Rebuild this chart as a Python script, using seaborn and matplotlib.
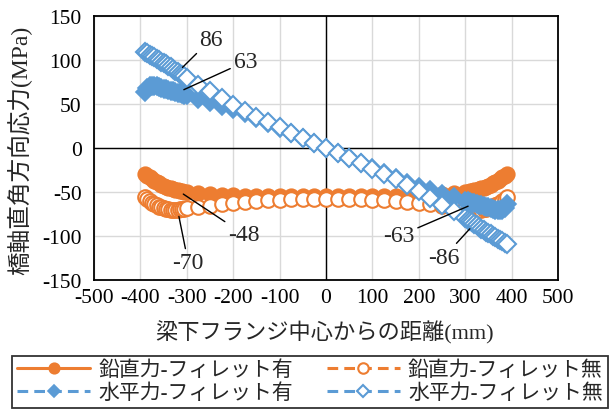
import matplotlib
matplotlib.use("Agg")
import matplotlib.pyplot as plt
import seaborn as sns

# Distance from the centre of the lower beam flange (mm)
x_mm = [-390, -385, -380, -375, -370, -365, -360, -355, -350, -345,
        -340, -335, -330, -325, -320, -315, -310, -305, -300,
        -275, -250, -225, -200, -175, -150, -125, -100, -75, -50, -25,
        0,
        25, 50, 75, 100, 125, 150, 175, 200, 225, 250, 275,
        300, 305, 310, 315, 320, 325, 330, 335, 340, 345,
        350, 355, 360, 365, 370, 375, 380, 385, 390]

# Transverse stress (MPa), vertical load, with fillet
v_fillet = [-30, -31.5, -33, -35, -37, -38.5, -40, -41.5, -43, -44,
            -45, -46, -47, -47.5, -48, -48.5, -49, -49.5, -50,
            -51.5, -52.5, -53, -53.5, -54, -54.5, -54.5, -55, -55, -55, -55,
            -55,
            -55, -55, -55, -55, -54.5, -54.5, -54, -53.5, -53, -52.5, -51.5,
            -50, -49.5, -49, -48.5, -48, -47.5, -47, -46, -45, -44,
            -43, -41.5, -40, -38.5, -37, -35, -33, -31.5, -30]

# Vertical load, without fillet
v_nofillet = [-56, -58, -60, -62, -63.5, -65, -66.5, -67.5, -68.5, -69,
              -69.5, -70, -70, -70, -70, -69.5, -69.5, -69, -68.5,
              -67, -65.5, -64, -62.5, -61.5, -60.5, -59.5, -59, -58.5, -58, -58,
              -58,
              -58, -58, -58.5, -59, -59.5, -60.5, -61.5, -62.5, -64, -65.5, -67,
              -68.5, -69, -69.5, -69.5, -70, -70, -70, -70, -69.5, -69,
              -68.5, -67.5, -66.5, -65, -63.5, -62, -60, -58, -56]

# Horizontal load, with fillet
h_fillet = [64, 68, 70.5, 71, 70.5, 70, 69.5, 68.5, 67.5, 66.5,
            66, 65, 64.5, 63.5, 63, 62, 61.5, 60.5, 60,
            56, 52, 48, 44, 39.5, 34, 28.5, 22.5, 17, 11, 5.5,
            0,
            -5.5, -11, -17, -22.5, -28.5, -34, -39.5, -44, -48, -52, -56,
            -60, -60.5, -61.5, -62, -63, -63.5, -64.5, -65, -66, -66.5,
            -67.5, -68.5, -69.5, -70, -70.5, -71, -70.5, -68, -64]

# Horizontal load, without fillet
h_nofillet = [109, 107.5, 106, 104.5, 103, 101.5, 100, 98, 96.5, 95,
              93, 91.5, 89.5, 88, 86, 84.5, 83, 81.5, 80,
              72, 64.5, 56.5, 49, 42, 35.5, 29.5, 23.5, 17.5, 11.5, 6,
              0,
              -6, -11.5, -17.5, -23.5, -29.5, -35.5, -42, -49, -56.5, -64.5, -72,
              -80, -81.5, -83, -84.5, -86, -88, -89.5, -91.5, -93, -95,
              -96.5, -98, -100, -101.5, -103, -104.5, -106, -107.5, -109]

series_names = ["鉛直力-フィレット有", "鉛直力-フィレット無",
                "水平力-フィレット有", "水平力-フィレット無"]
x_ticks = [-500, -400, -300, -200, -100, 0, 100, 200, 300, 400, 500]
y_ticks = [-150, -100, -50, 0, 50, 100, 150]

ORANGE = "#ED7D31"
BLUE = "#5B9BD5"

sns.set_style("white")
plt.rcParams["font.family"] = ["Liberation Serif", "Noto Sans CJK JP"]
plt.rcParams["axes.unicode_minus"] = False

fig = plt.figure(figsize=(6.14, 4.10), dpi=100)
ax = fig.add_axes([94 / 614, 1 - 281 / 410, (558 - 94) / 614, (281 - 17) / 410])

dash = (3.5, 2.0)
sns.lineplot(x=x_mm, y=v_fillet, ax=ax, sort=False, color=ORANGE, lw=2.2,
             marker="o", markersize=10.5, markerfacecolor=ORANGE,
             markeredgecolor=ORANGE, markeredgewidth=1.2, label=series_names[0])
sns.lineplot(x=x_mm, y=v_nofillet, ax=ax, sort=False, color=ORANGE, lw=2.2,
             dashes=dash, marker="o", markersize=10.5, markerfacecolor="white",
             markeredgecolor=ORANGE, markeredgewidth=1.5, label=series_names[1])
sns.lineplot(x=x_mm, y=h_fillet, ax=ax, sort=False, color=BLUE, lw=2.2,
             dashes=dash, marker="D", markersize=9.0, markerfacecolor=BLUE,
             markeredgecolor=BLUE, markeredgewidth=1.2, label=series_names[2])
sns.lineplot(x=x_mm, y=h_nofillet, ax=ax, sort=False, color=BLUE, lw=2.2,
             dashes=dash, marker="D", markersize=9.0, markerfacecolor="white",
             markeredgecolor=BLUE, markeredgewidth=1.5, label=series_names[3])

ax.set_xlim(-500, 500)
ax.set_ylim(-150, 150)
ax.set_xticks(x_ticks)
ax.set_yticks(y_ticks)
ax.set_xticklabels([str(v) for v in x_ticks])
ax.set_yticklabels([str(v) for v in y_ticks])
ax.tick_params(axis="both", length=0, labelsize=15.5, colors="black")
ax.tick_params(axis="x", pad=6)
ax.tick_params(axis="y", pad=9)

ax.grid(True, color="#D9D9D9", lw=1.0)
ax.set_axisbelow(True)
ax.axhline(0, color="black", lw=1.0, zorder=1.5)
ax.axvline(0, color="black", lw=1.0, zorder=1.5)
for sp in ax.spines.values():
    sp.set_visible(True)
    sp.set_color("black")
    sp.set_linewidth(1.3)

fig.text(325 / 614, 1 - 333 / 410, "梁下フランジ中心からの距離(mm)",
         fontsize=16, ha="center", va="center")
fig.text(20 / 614, 1 - 150 / 410, "橋軸直角方向応力(MPa)",
         fontsize=17, ha="center", va="center", rotation=90)

# Data labels at x = ±320 mm with leader lines
def tag(series, xval, tx, ty):
    i = x_mm.index(xval)
    ax.annotate(f"{series[i]:g}", xy=(xval, series[i]), xytext=(tx, ty),
                textcoords="data", fontsize=17, ha="center", va="center",
                arrowprops=dict(arrowstyle="-", color="black", lw=1.0,
                                shrinkA=0, shrinkB=5),
                zorder=6)

tag(h_nofillet, -320, -249, 123)
tag(h_fillet, -320, -174, 98)
tag(v_fillet, -320, -177, -98)
tag(v_nofillet, -320, -297, -130)
tag(h_fillet, 320, 157, -100)
tag(h_nofillet, 320, 254, -124)

handles, labels = ax.get_legend_handles_labels()
if ax.legend_:
    ax.legend_.remove()
order = [0, 2, 1, 3]
leg = fig.legend([handles[i] for i in order], [labels[i] for i in order],
                 ncol=2, loc="center",
                 bbox_to_anchor=(310 / 614, 1 - 383 / 410),
                 fontsize=15, frameon=True, fancybox=False,
                 edgecolor="black", handlelength=3.5, handletextpad=0.4,
                 columnspacing=1.6, borderpad=0.25, labelspacing=0.15,
                 markerscale=0.72)
leg.get_frame().set_linewidth(1.3)

fig.savefig("out.png", dpi=100)
